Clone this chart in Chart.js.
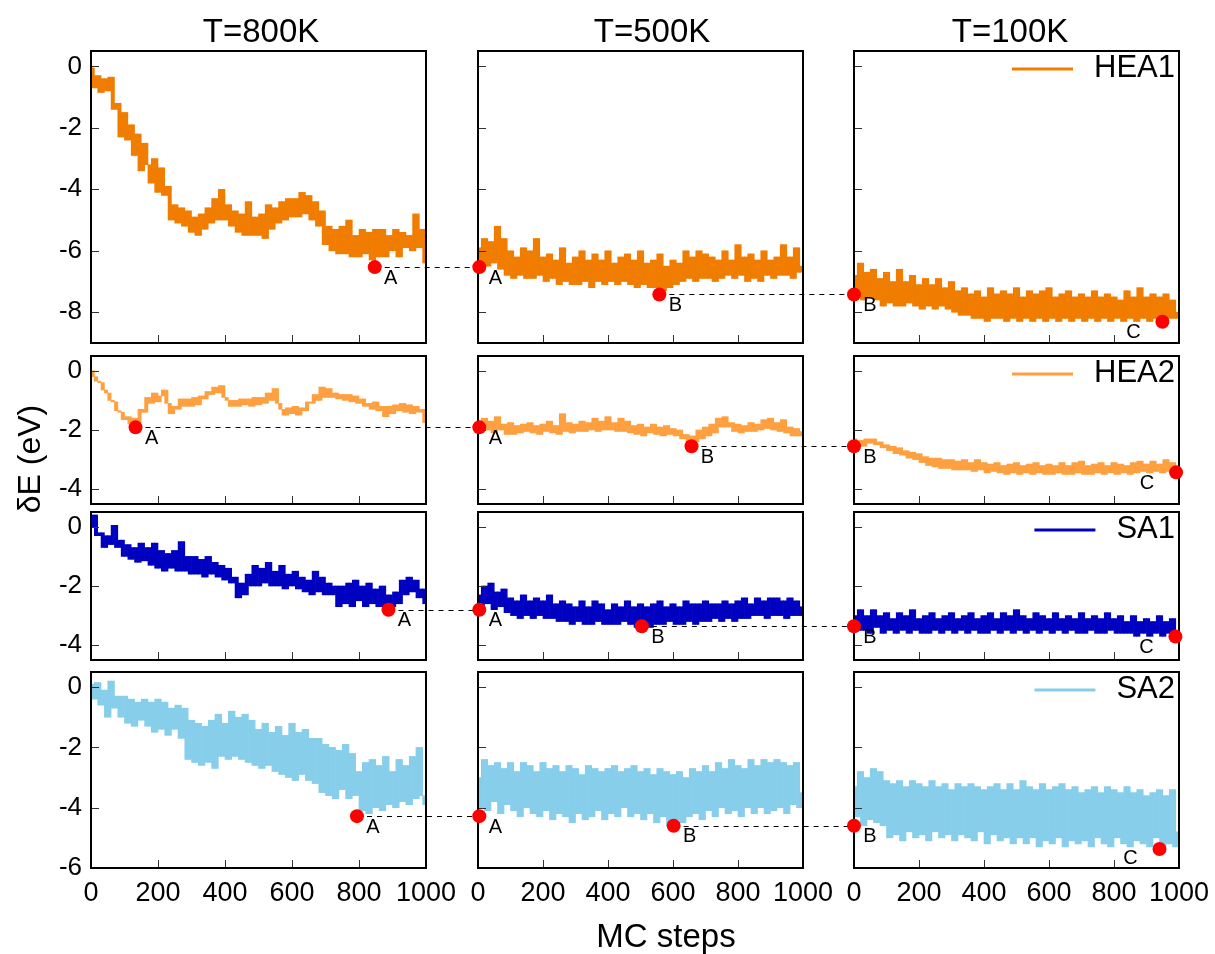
<!DOCTYPE html>
<html><head><meta charset="utf-8">
<script src="https://cdn.jsdelivr.net/npm/chart.js@4.4.1/dist/chart.umd.min.js"></script>
<style>
html,body{margin:0;padding:0;background:#fff;}
#wrap{position:relative;width:1215px;height:954px;overflow:hidden;font-family:'Liberation Sans',Arial,sans-serif;color:#000;}
#wrap canvas{position:absolute;}
.lbl{position:absolute;white-space:nowrap;text-align:center;}
</style></head><body><div id="wrap"></div>
<script>
// ---------- data ----------
const STEPS = [0,10,20,30,40,50,60,70,80,90,100,110,120,130,140,150,160,170,180,190,200,210,220,230,240,250,260,270,280,290,300,310,320,330,340,350,360,370,380,390,400,410,420,430,440,450,460,470,480,490,500,510,520,530,540,550,560,570,580,590,600,610,620,630,640,650,660,670,680,690,700,710,720,730,740,750,760,770,780,790,800,810,820,830,840,850,860,870,880,890,900,910,920,930,940,950,960,970,980,990,1000];
const TEMPS = ['T=800K','T=500K','T=100K'];
const SERIES = ['HEA1','HEA2','SA1','SA2'];
const X_TICKS = [0,200,400,600,800,1000];
const X_LABEL = 'MC steps';
const Y_LABEL = 'δE (eV)';

const HEA1_800 = [-0.05,-0.7,-0.3,-0.85,-0.4,-0.8,-0.35,-1.4,-1.2,-2.3,
-1.5,-2.4,-1.9,-2.9,-2.2,-3.4,-2.5,-3.2,-3.8,-3.0,
-4.1,-3.3,-4.2,-3.9,-5.0,-4.5,-5.1,-4.6,-5.2,-4.7,
-5.4,-4.9,-5.5,-4.8,-5.3,-4.6,-5.1,-4.3,-5.0,-4.0,
-5.0,-4.5,-5.2,-4.7,-5.4,-4.8,-5.5,-4.4,-5.5,-4.9,
-5.5,-4.8,-5.6,-4.5,-5.3,-4.6,-5.1,-4.4,-5.0,-4.3,
-4.9,-4.3,-4.9,-4.1,-4.8,-4.2,-5.0,-4.4,-5.2,-4.7,
-5.8,-5.2,-6.0,-5.3,-6.1,-5.2,-6.1,-5.0,-6.2,-5.5,
-6.2,-5.3,-6.1,-5.4,-6.3,-5.3,-6.2,-5.3,-6.2,-5.5,
-6.0,-5.3,-6.2,-5.4,-5.9,-5.5,-6.0,-4.8,-5.9,-5.3,
-6.4];
const HEA1_500 = [-5.9,-6.5,-5.6,-6.5,-5.7,-6.4,-5.2,-6.6,-5.6,-6.8,
-6.0,-6.9,-6.2,-6.8,-5.9,-6.9,-6.0,-6.9,-5.6,-6.8,
-6.2,-7.0,-6.1,-6.9,-6.3,-7.1,-5.9,-7.0,-6.4,-7.1,
-6.2,-7.1,-6.0,-7.0,-6.3,-7.2,-6.1,-7.0,-6.3,-7.1,
-6.0,-7.0,-6.4,-7.1,-6.2,-7.0,-6.1,-7.1,-6.3,-7.2,
-6.0,-7.1,-6.4,-7.2,-6.3,-7.2,-6.1,-7.3,-6.5,-7.2,
-6.3,-7.1,-6.4,-7.0,-6.0,-6.9,-6.2,-7.0,-6.0,-6.9,
-6.1,-6.9,-6.2,-7.0,-6.3,-6.9,-6.0,-6.8,-6.3,-6.9,
-5.8,-6.8,-6.2,-7.0,-6.1,-6.9,-6.3,-7.0,-6.0,-6.8,
-6.3,-6.9,-6.2,-6.8,-5.8,-6.8,-6.2,-6.9,-5.9,-6.7,
-6.5];
const HEA1_100 = [-6.8,-7.5,-6.4,-7.6,-6.7,-7.5,-6.6,-7.6,-6.9,-7.8,
-6.7,-7.7,-7.0,-7.8,-6.6,-7.8,-7.0,-7.7,-6.8,-7.8,
-7.1,-7.9,-6.9,-7.8,-7.1,-7.9,-6.9,-7.8,-7.2,-7.9,
-7.0,-8.0,-7.3,-8.1,-7.2,-8.1,-7.4,-8.2,-7.3,-8.2,
-7.5,-8.3,-7.2,-8.2,-7.4,-8.2,-7.3,-8.3,-7.4,-8.2,
-7.2,-8.3,-7.5,-8.2,-7.3,-8.3,-7.4,-8.2,-7.3,-8.3,
-7.2,-8.2,-7.5,-8.3,-7.4,-8.2,-7.3,-8.3,-7.5,-8.2,
-7.4,-8.3,-7.5,-8.2,-7.3,-8.3,-7.5,-8.2,-7.4,-8.3,
-7.5,-8.2,-7.6,-8.3,-7.3,-8.2,-7.5,-8.3,-7.2,-8.2,
-7.5,-8.3,-7.4,-8.2,-7.5,-8.3,-7.4,-8.2,-7.6,-8.2,
-8.0];
const HEA2_800 = [0.0,-0.2,-0.35,-0.4,-0.65,-0.75,-1.0,-1.05,-1.35,-1.4,
-1.65,-1.55,-1.8,-1.6,-1.75,-1.3,-1.4,-0.9,-1.1,-0.75,
-1.05,-0.85,-0.65,-1.1,-1.45,-1.2,-1.3,-0.95,-1.2,-0.95,
-1.2,-0.9,-1.15,-0.85,-0.95,-0.7,-0.8,-0.55,-0.75,-0.5,
-0.9,-1.0,-1.2,-1.0,-1.2,-0.95,-1.15,-0.95,-1.2,-0.9,
-1.15,-0.9,-1.1,-0.75,-1.0,-0.6,-1.1,-1.3,-1.5,-1.25,
-1.45,-1.2,-1.5,-1.25,-1.35,-1.05,-1.1,-0.8,-1.0,-0.55,
-0.9,-0.6,-0.9,-0.75,-0.95,-0.8,-1.0,-0.8,-1.05,-0.85,
-1.1,-0.95,-1.2,-1.1,-1.3,-1.05,-1.35,-1.2,-1.55,-1.2,
-1.45,-1.15,-1.35,-1.1,-1.4,-1.15,-1.45,-1.2,-1.4,-1.3,
-1.75];
const HEA2_500 = [-1.7,-1.9,-1.6,-2.0,-1.7,-2.1,-1.55,-2.0,-1.8,-2.15,
-1.75,-2.15,-1.85,-2.1,-1.8,-2.05,-1.75,-2.1,-1.85,-2.15,
-1.8,-2.05,-1.7,-2.1,-1.85,-2.15,-1.45,-2.05,-1.75,-2.1,
-1.8,-2.05,-1.7,-2.05,-1.75,-2.0,-1.6,-2.05,-1.7,-2.0,
-1.55,-2.0,-1.75,-2.05,-1.6,-2.05,-1.7,-2.1,-1.85,-2.15,
-1.8,-2.2,-1.9,-2.1,-1.8,-2.15,-1.9,-2.2,-1.85,-2.15,
-1.95,-2.2,-2.0,-2.3,-2.15,-2.45,-2.2,-2.4,-2.0,-2.3,
-1.9,-2.2,-1.8,-2.1,-1.6,-1.9,-1.55,-1.9,-1.75,-2.05,
-1.8,-2.1,-1.85,-2.05,-1.75,-2.05,-1.8,-2.0,-1.65,-1.95,
-1.6,-2.0,-1.75,-2.05,-1.65,-2.1,-1.9,-2.2,-1.95,-2.2,
-2.05];
const HEA2_100 = [-2.3,-2.5,-2.35,-2.55,-2.3,-2.45,-2.3,-2.5,-2.4,-2.6,
-2.5,-2.7,-2.55,-2.8,-2.6,-2.85,-2.7,-2.95,-2.75,-3.0,
-2.8,-3.1,-2.9,-3.2,-2.95,-3.25,-2.95,-3.3,-3.0,-3.3,
-3.0,-3.35,-3.05,-3.35,-3.0,-3.35,-3.1,-3.4,-3.0,-3.35,
-3.1,-3.45,-3.15,-3.4,-3.1,-3.45,-3.2,-3.5,-3.15,-3.45,
-3.1,-3.5,-3.2,-3.45,-3.15,-3.5,-3.1,-3.45,-3.2,-3.5,
-3.15,-3.5,-3.2,-3.45,-3.1,-3.5,-3.2,-3.5,-3.1,-3.45,
-3.05,-3.5,-3.2,-3.5,-3.15,-3.45,-3.1,-3.5,-3.2,-3.45,
-3.1,-3.5,-3.15,-3.45,-3.2,-3.5,-3.1,-3.45,-3.05,-3.4,
-3.15,-3.45,-3.05,-3.4,-3.15,-3.45,-3.0,-3.4,-3.1,-3.35,
-3.4];
const SA1_800 = [0.0,0.4,-0.3,-0.2,-0.7,-0.3,-0.6,0.05,-0.7,-0.45,
-1.0,-0.6,-1.1,-0.7,-1.2,-0.55,-1.15,-0.7,-1.3,-0.55,
-1.4,-0.8,-1.5,-0.9,-1.4,-0.8,-1.5,-0.5,-1.5,-1.0,
-1.6,-1.0,-1.6,-1.1,-1.7,-1.0,-1.6,-1.2,-1.7,-1.3,
-1.8,-1.4,-1.9,-1.7,-2.4,-1.9,-2.3,-1.6,-2.0,-1.3,
-2.0,-1.4,-1.9,-1.2,-2.0,-1.5,-2.0,-1.3,-2.1,-1.6,
-2.0,-1.5,-2.1,-1.7,-2.2,-1.8,-2.3,-1.5,-2.2,-1.7,
-2.3,-1.9,-2.3,-2.0,-2.7,-2.0,-2.6,-1.9,-2.7,-1.8,
-2.5,-2.0,-2.7,-1.9,-2.6,-2.1,-2.7,-2.0,-2.8,-2.3,
-2.7,-2.2,-2.6,-1.8,-2.3,-1.7,-2.2,-1.8,-2.4,-2.1,
-2.6];
const SA1_500 = [-2.3,-2.7,-2.0,-2.6,-1.9,-2.8,-2.2,-2.7,-2.1,-2.9,
-2.4,-3.0,-2.5,-3.1,-2.3,-3.0,-2.5,-3.1,-2.4,-3.0,
-2.5,-3.1,-2.3,-3.1,-2.6,-3.2,-2.5,-3.2,-2.6,-3.3,
-2.7,-3.2,-2.5,-3.3,-2.7,-3.3,-2.5,-3.2,-2.6,-3.3,
-2.8,-3.3,-2.6,-3.3,-2.7,-3.2,-2.5,-3.3,-2.7,-3.4,
-2.6,-3.3,-2.7,-3.4,-2.6,-3.3,-2.5,-3.3,-2.7,-3.2,
-2.6,-3.3,-2.7,-3.3,-2.5,-3.2,-2.6,-3.3,-2.6,-3.2,
-2.5,-3.2,-2.6,-3.1,-2.6,-3.2,-2.5,-3.1,-2.6,-3.2,
-2.5,-3.1,-2.4,-3.1,-2.6,-3.0,-2.4,-3.0,-2.5,-3.1,
-2.4,-3.0,-2.4,-3.0,-2.5,-3.1,-2.4,-3.0,-2.5,-3.0,
-2.7];
const SA1_100 = [-3.0,-3.5,-2.8,-3.5,-3.0,-3.6,-2.8,-3.4,-3.0,-3.6,
-2.9,-3.5,-3.1,-3.6,-2.9,-3.5,-3.0,-3.6,-2.8,-3.5,
-3.1,-3.6,-3.0,-3.6,-2.9,-3.5,-3.1,-3.6,-3.0,-3.5,
-2.9,-3.6,-3.1,-3.5,-3.0,-3.6,-2.9,-3.5,-3.1,-3.6,
-3.0,-3.6,-2.9,-3.5,-3.1,-3.6,-2.9,-3.5,-3.0,-3.6,
-2.8,-3.5,-3.0,-3.6,-3.1,-3.5,-2.9,-3.6,-3.0,-3.5,
-3.1,-3.6,-2.9,-3.5,-3.1,-3.6,-3.0,-3.5,-3.1,-3.6,
-2.9,-3.6,-3.1,-3.5,-3.0,-3.6,-3.1,-3.6,-2.9,-3.5,
-3.1,-3.6,-3.0,-3.6,-3.2,-3.6,-3.0,-3.7,-3.2,-3.6,
-3.1,-3.7,-3.2,-3.6,-3.0,-3.7,-3.2,-3.6,-3.1,-3.6,
-3.5];
const SA2_800 = [0.1,-0.4,0.15,-0.6,-0.1,-1.0,0.2,-0.7,-0.3,-1.0,
-0.3,-1.2,-0.4,-1.3,-0.5,-1.1,-0.4,-1.3,-0.5,-1.5,
-0.4,-1.4,-0.5,-1.6,-0.7,-1.4,-0.6,-1.7,-0.7,-2.4,
-1.1,-2.5,-1.2,-2.6,-1.3,-2.5,-1.1,-2.7,-0.9,-2.3,
-1.2,-2.4,-0.8,-2.3,-1.0,-2.4,-0.9,-2.5,-1.1,-2.6,
-1.4,-2.7,-1.2,-2.6,-1.5,-2.8,-1.3,-2.9,-1.6,-3.0,
-1.2,-3.1,-1.5,-2.9,-1.4,-3.1,-1.7,-3.2,-1.7,-3.5,
-1.9,-3.6,-2.0,-3.7,-2.1,-3.4,-1.9,-3.7,-2.2,-3.6,
-2.8,-4.1,-2.5,-4.2,-2.4,-4.0,-2.6,-4.1,-2.3,-3.9,
-2.8,-4.0,-2.4,-3.8,-2.6,-3.9,-2.3,-3.7,-2.0,-3.6,
-3.9];
const SA2_500 = [-3.0,-4.0,-2.4,-4.1,-2.6,-3.8,-2.5,-4.2,-2.7,-3.9,
-2.5,-4.1,-2.8,-4.3,-2.5,-4.0,-2.6,-4.2,-2.8,-4.3,
-2.5,-4.1,-2.7,-4.4,-2.6,-4.2,-2.8,-4.3,-2.6,-4.5,
-2.7,-4.2,-2.9,-4.4,-2.6,-4.3,-2.7,-4.1,-2.8,-4.4,
-2.7,-4.2,-2.6,-4.3,-2.8,-4.0,-2.7,-4.3,-2.6,-4.2,
-2.8,-4.4,-2.7,-4.2,-2.9,-4.5,-2.7,-4.3,-2.8,-4.6,
-2.9,-4.4,-2.8,-4.5,-3.0,-4.3,-2.7,-4.2,-2.8,-4.4,
-2.6,-4.1,-2.8,-4.3,-2.5,-4.0,-2.7,-4.2,-2.4,-4.1,
-2.6,-4.3,-2.7,-4.0,-2.4,-4.2,-2.6,-4.0,-2.4,-4.2,
-2.5,-4.1,-2.4,-4.0,-2.5,-4.2,-2.6,-3.9,-2.5,-4.0,
-3.5];
const SA2_100 = [-3.3,-4.3,-2.8,-4.6,-3.0,-4.4,-2.7,-4.5,-2.8,-4.6,
-3.1,-5.0,-3.2,-4.9,-3.1,-5.1,-3.3,-4.8,-3.1,-5.0,
-3.2,-4.9,-3.3,-5.1,-3.1,-4.8,-3.3,-5.0,-3.2,-4.9,
-3.4,-5.1,-3.2,-4.9,-3.3,-5.0,-3.2,-5.1,-3.3,-4.8,
-3.4,-5.2,-3.3,-4.9,-3.2,-5.1,-3.4,-5.0,-3.2,-5.2,
-3.4,-5.0,-3.1,-5.2,-3.3,-5.0,-3.4,-5.3,-3.2,-5.1,
-3.4,-5.2,-3.3,-5.0,-3.2,-5.3,-3.4,-5.1,-3.3,-5.2,
-3.5,-5.1,-3.4,-5.3,-3.3,-5.0,-3.5,-5.2,-3.3,-5.3,
-3.4,-5.0,-3.5,-5.2,-3.3,-5.3,-3.5,-5.1,-3.4,-5.2,
-3.6,-5.3,-3.5,-5.0,-3.4,-5.3,-3.6,-5.2,-3.4,-5.3,
-4.8];

// y ranges and ticks per row
const HEA1_YRANGE = [-9, 0.5];   const HEA1_YTICKS = [0,-2,-4,-6,-8];
const HEA2_YRANGE = [-4.5, 0.5]; const HEA2_YTICKS = [0,-2,-4];
const SA1_YRANGE  = [-4.5, 0.5]; const SA1_YTICKS  = [0,-2,-4];
const SA2_YRANGE  = [-6, 0.5];   const SA2_YTICKS  = [0,-2,-4,-6];

// marked configurations (per column)
const MARK_LABELS = [['A'],['A','B'],['B','C']];
const HEA1_MX = [[847],[4,558],[0,949]]; const HEA1_MY = [[-6.53],[-6.53,-7.42],[-7.42,-8.31]];
const HEA2_MX = [[133],[4,657],[0,991]]; const HEA2_MY = [[-1.91],[-1.91,-2.55],[-2.55,-3.43]];
const SA1_MX  = [[888],[4,504],[0,989]]; const SA1_MY  = [[-2.80],[-2.80,-3.36],[-3.36,-3.71]];
const SA2_MX  = [[794],[4,602],[0,940]]; const SA2_MY  = [[-4.28],[-4.28,-4.60],[-4.60,-5.37]];

// ---------- styles / layout ----------
const COLORS = ['#f07c00','#ffa040','#0000c0','#87ceeb'];
const COL_L = [91,478,854], COL_W = [335,325,325];
const COL_ML = [91,12,12], COL_MR = [52,51,36];
const ROW_T = [51,356,512,672], ROW_H = [292,148,148,196];
const MT = 12, ROW_MB = [10,10,10,60];
const TITLE_CX = [261,652,1010];
const FONT = "'Liberation Sans', Arial, sans-serif";

const ROWS = [
  {vals:[HEA1_800,HEA1_500,HEA1_100], range:HEA1_YRANGE, yt:HEA1_YTICKS, mx:HEA1_MX, my:HEA1_MY},
  {vals:[HEA2_800,HEA2_500,HEA2_100], range:HEA2_YRANGE, yt:HEA2_YTICKS, mx:HEA2_MX, my:HEA2_MY},
  {vals:[SA1_800,SA1_500,SA1_100],    range:SA1_YRANGE,  yt:SA1_YTICKS,  mx:SA1_MX,  my:SA1_MY},
  {vals:[SA2_800,SA2_500,SA2_100],    range:SA2_YRANGE,  yt:SA2_YTICKS,  mx:SA2_MX,  my:SA2_MY}
];

Chart.defaults.font.family = FONT;
Chart.defaults.color = '#000';

const panelDeco = {
  id: 'panelDeco',
  afterDatasetDraw(chart, args, opts) {
    if (args.index !== 0) return;
    const ctx = chart.ctx, a = chart.chartArea, xs = chart.scales.x, ys = chart.scales.y;
    ctx.save();
    if (opts.link) {
      const pts = chart.getDatasetMeta(1).data;
      const p = pts[pts.length - 1];
      const yy = Math.round(p.y) + 0.5;
      ctx.strokeStyle = '#000'; ctx.lineWidth = 1; ctx.setLineDash([5,5]);
      ctx.beginPath(); ctx.moveTo(p.x, yy); ctx.lineTo(chart.width, yy); ctx.stroke();
      ctx.setLineDash([]);
    }
    ctx.strokeStyle = '#333'; ctx.lineWidth = 1;
    ys.ticks.forEach(t => {
      const py = Math.round(ys.getPixelForValue(t.value)) + 0.5;
      ctx.beginPath(); ctx.moveTo(a.left, py); ctx.lineTo(a.left + 8, py); ctx.stroke();
    });
    xs.ticks.forEach(t => {
      if (t.value <= xs.min || t.value >= xs.max) return;
      const px = Math.round(xs.getPixelForValue(t.value)) + 0.5;
      ctx.beginPath(); ctx.moveTo(px, a.bottom); ctx.lineTo(px, a.bottom - 8); ctx.stroke();
    });
    ctx.strokeStyle = '#000'; ctx.lineWidth = 2;
    ctx.strokeRect(a.left, a.top, a.right - a.left, a.bottom - a.top);
    ctx.restore();
  },
  afterDraw(chart, args, opts) {
    const ctx = chart.ctx, a = chart.chartArea;
    ctx.save();
    const pts = chart.getDatasetMeta(1).data;
    ctx.font = '20px ' + FONT; ctx.fillStyle = '#000';
    ctx.textAlign = 'center'; ctx.textBaseline = 'middle';
    pts.forEach((p, i) => {
      const right = opts.mx[i] < 900;
      const lx = right ? p.x + 16 : p.x - 29;
      const ly = Math.min(p.y + 11, a.bottom - 10);
      ctx.fillText(opts.labels[i], lx, ly);
    });
    if (opts.legend) {
      ctx.font = '31px ' + FONT; ctx.textAlign = 'right'; ctx.textBaseline = 'middle';
      const tx = a.right - 4, ty = a.top + 18;
      ctx.fillText(opts.legend, tx, ty - 1);
      const w = ctx.measureText(opts.legend).width;
      ctx.strokeStyle = opts.color; ctx.lineWidth = 3;
      ctx.beginPath(); ctx.moveTo(tx - w - 21 - 61, ty); ctx.lineTo(tx - w - 21, ty); ctx.stroke();
    }
    ctx.restore();
  }
};

const wrap = document.getElementById('wrap');

ROWS.forEach((r, ri) => {
  for (let ci = 0; ci < 3; ci++) {
    const ml = COL_ML[ci], mr = COL_MR[ci], mb = ROW_MB[ri];
    const W = ml + COL_W[ci] + mr, H = MT + ROW_H[ri] + mb;
    const cv = document.createElement('canvas');
    cv.width = W; cv.height = H;
    cv.style.left = (COL_L[ci] - ml) + 'px'; cv.style.top = (ROW_T[ri] - MT) + 'px';
    cv.style.width = W + 'px'; cv.style.height = H + 'px';
    wrap.appendChild(cv);
    const vals = r.vals[ci];
    const mx = r.mx[ci], my = r.my[ci];
    // each trace segment between consecutive samples drawn as a floating bar (fills the noisy band)
    const seg = STEPS.slice(0, -1).map((s, i) => ({x: (s + STEPS[i + 1]) / 2, y: [vals[i], vals[i + 1]]}));
    new Chart(cv, {
      type: 'bar',
      data: {
        datasets: [
          { type: 'bar', data: seg, backgroundColor: COLORS[ri], borderWidth: 0,
            barPercentage: 1, categoryPercentage: 1, order: 2 },
          { type: 'line', data: mx.map((s, i) => ({x: s, y: my[i]})), showLine: false, pointRadius: 7, pointHoverRadius: 7,
            pointBackgroundColor: '#ff0000', pointBorderColor: '#ff0000', pointBorderWidth: 0, clip: false, order: 1 }
        ]
      },
      options: {
        responsive: false, animation: false, events: [], devicePixelRatio: 1,
        layout: { padding: { left: 0, top: MT, right: mr, bottom: 0 }, autoPadding: false },
        plugins: {
          legend: { display: false }, tooltip: { enabled: false },
          panelDeco: { link: ci < 2, labels: MARK_LABELS[ci], mx: mx,
                       legend: ci === 2 ? SERIES[ri] : null, color: COLORS[ri] }
        },
        scales: {
          x: {
            type: 'linear', min: 0, max: 1000, offset: false,
            grid: { display: false, drawTicks: false, offset: false }, border: { display: false },
            ticks: { display: ri === 3, autoSkip: false, maxRotation: 0, minRotation: 0, padding: 9,
                     color: '#000', font: { size: 27 }, callback: v => String(v) },
            afterBuildTicks: s => { s.ticks = X_TICKS.map(v => ({value: v})); },
            afterFit: s => { s.height = mb; s.paddingLeft = 0; s.paddingRight = 0; }
          },
          y: {
            type: 'linear', min: r.range[0], max: r.range[1],
            grid: { display: false, drawTicks: false }, border: { display: false },
            ticks: { display: ci === 0, padding: 9, color: '#000', font: { size: 26 }, callback: v => String(v) },
            afterBuildTicks: s => { s.ticks = r.yt.slice().sort((p, q) => p - q).map(v => ({value: v})); },
            afterFit: s => { s.width = ml; s.paddingTop = 0; s.paddingBottom = 0; }
          }
        }
      },
      plugins: [panelDeco]
    });
  }
});

// titles and axis labels as real text
TEMPS.forEach((t, i) => {
  const d = document.createElement('div');
  d.className = 'lbl'; d.textContent = t;
  d.style.cssText += `left:${TITLE_CX[i]-120}px;top:14px;width:240px;font-size:33px;line-height:33px;`;
  wrap.appendChild(d);
});
const xl = document.createElement('div');
xl.className = 'lbl'; xl.textContent = X_LABEL;
xl.style.cssText += 'left:516px;top:919px;width:300px;font-size:33px;line-height:33px;';
wrap.appendChild(xl);
const yl = document.createElement('div');
yl.className = 'lbl'; yl.textContent = Y_LABEL;
yl.style.cssText += 'left:-71px;top:443px;width:200px;font-size:32px;line-height:32px;transform:rotate(-90deg);';
wrap.appendChild(yl);
</script>
</body></html>
